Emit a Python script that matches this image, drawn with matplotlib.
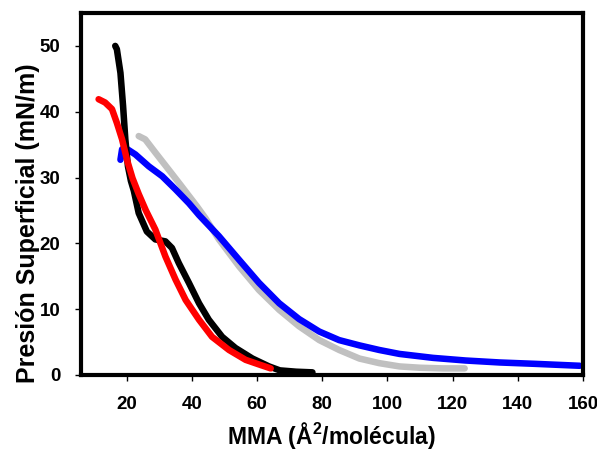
import numpy as np
import matplotlib
matplotlib.use("Agg")
import matplotlib.pyplot as plt

plt.rcParams['font.family'] = ['Liberation Sans', 'DejaVu Sans']
plt.rcParams['font.weight'] = 'bold'
plt.rcParams['mathtext.fontset'] = 'custom'
plt.rcParams['mathtext.bf'] = 'Liberation Sans:bold'
plt.rcParams['mathtext.rm'] = 'Liberation Sans:bold'

# isotherms: area per molecule (A^2) vs surface pressure (mN/m)
black_x = [16.5, 17.0, 18.1, 18.9, 19.6, 20.4, 21.3, 22.2, 23.7, 26.2, 28.8, 31.9, 33.9,
           36.0, 39.1, 42.2, 45.2, 49.3, 53.4, 58.6, 63.7, 67.0, 72.0, 77.0]
black_y = [50.0, 49.5, 45.9, 40.9, 35.8, 31.7, 29.5, 28.0, 24.6, 21.8, 20.6, 20.3, 19.3,
           17.0, 14.0, 10.9, 8.4, 5.8, 4.1, 2.5, 1.3, 0.7, 0.5, 0.4]

red_x = [11.4, 13.4, 15.5, 17.0, 18.6, 20.1, 21.8, 23.7, 25.9, 28.8, 31.9, 35.0, 38.1, 42.2,
         46.2, 51.4, 56.5, 60.6, 64.2]
red_y = [41.9, 41.4, 40.4, 38.3, 35.8, 32.7, 29.9, 27.5, 25.0, 22.1, 18.0, 14.5, 11.4, 8.4,
         5.8, 3.8, 2.3, 1.6, 1.0]

gray_x = [23.7, 25.7, 28.8, 32.9, 36.5, 41.6, 44.2, 48.3, 54.5, 60.6, 66.8, 72.9, 79.1, 85.2,
          91.4, 97.5, 103.7, 110.0, 117.0, 123.7]
gray_y = [36.3, 35.8, 33.8, 31.2, 28.9, 25.6, 23.8, 20.6, 16.5, 12.9, 9.9, 7.4, 5.3, 3.8,
          2.5, 1.8, 1.3, 1.1, 1.0, 1.0]

blue_x = [18.1, 18.6, 19.6, 22.7, 26.8, 30.9, 35.0, 39.1, 42.2, 48.3, 54.5, 60.6, 66.8, 72.9,
          79.1, 85.2, 91.4, 97.5, 103.7, 114.0, 124.0, 134.5, 145.0, 159.0]
blue_y = [32.7, 34.3, 34.5, 33.5, 31.7, 30.2, 28.2, 26.1, 24.3, 21.1, 17.5, 14.0, 10.9, 8.5,
          6.6, 5.3, 4.5, 3.8, 3.2, 2.6, 2.2, 1.9, 1.7, 1.4]

x_ticks = [20, 40, 60, 80, 100, 120, 140, 160]
y_ticks = [0, 10, 20, 30, 40, 50]

fig = plt.figure(figsize=(5.97, 4.5), dpi=100)
ax = fig.add_axes([0.1357, 0.1667, 0.8408, 0.8044])

for xs, ys, c in [(gray_x, gray_y, '#c0c0c0'), (blue_x, blue_y, '#0000ff'),
                  (black_x, black_y, 'black'), (red_x, red_y, '#ff0000')]:
    ax.plot(xs, ys, color=c, lw=4.7, solid_capstyle='round', solid_joinstyle='round')

ax.set_xlim(6, 160)
ax.set_ylim(0, 55)
ax.set_xticks(x_ticks)
ax.set_yticks(y_ticks)
ax.tick_params(axis='both', direction='out', length=4, width=1, labelsize=13.5)
ax.tick_params(axis='x', pad=11)
ax.tick_params(axis='y', pad=11)
for s in ax.spines.values():
    s.set_linewidth(3)

ax.set_xlabel(r'MMA (Å$^{\mathbf{2}}$/molécula)', fontsize=16.5, fontweight='bold')
ax.set_ylabel('Presión Superficial (mN/m)', fontsize=18, fontweight='bold')
ax.xaxis.set_label_coords(0.498, -0.168)
ax.yaxis.set_label_coords(-0.105, 0.42)
ax.xaxis.label.set_va('center')
ax.yaxis.label.set_va('center')

fig.savefig('out.png', dpi=100)
